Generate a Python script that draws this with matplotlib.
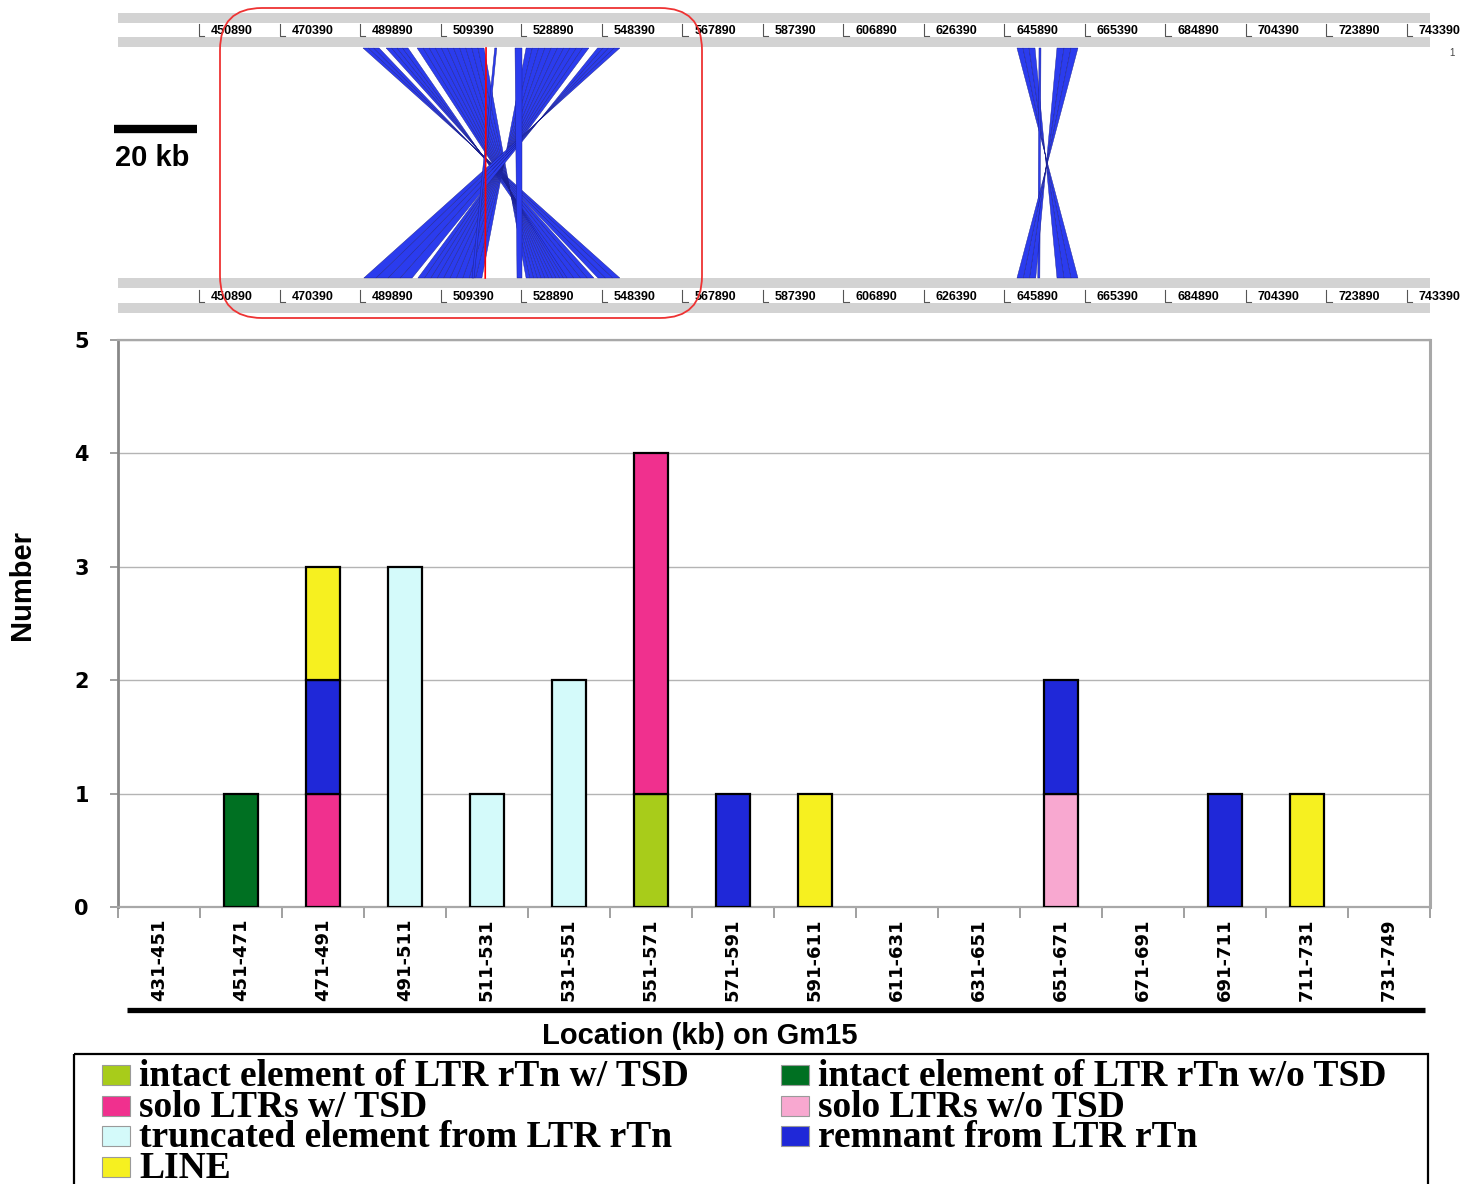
import numpy as np
import matplotlib.pyplot as plt
from matplotlib.patches import Polygon, Rectangle, FancyBboxPatch

# 20-kb bins on Gm15
bins = ['431-451', '451-471', '471-491', '491-511', '511-531', '531-551',
        '551-571', '571-591', '591-611', '611-631', '631-651', '651-671',
        '671-691', '691-711', '711-731', '731-749']

# number of elements per bin, one list per class
intact_tsd = [0, 0, 0, 0, 0, 0, 1, 0, 0, 0, 0, 0, 0, 0, 0, 0]
intact_no_tsd = [0, 1, 0, 0, 0, 0, 0, 0, 0, 0, 0, 0, 0, 0, 0, 0]
solo_tsd = [0, 0, 1, 0, 0, 0, 3, 0, 0, 0, 0, 0, 0, 0, 0, 0]
solo_no_tsd = [0, 0, 0, 0, 0, 0, 0, 0, 0, 0, 0, 1, 0, 0, 0, 0]
truncated = [0, 0, 0, 3, 1, 2, 0, 0, 0, 0, 0, 0, 0, 0, 0, 0]
remnant = [0, 0, 1, 0, 0, 0, 0, 1, 0, 0, 0, 1, 0, 1, 0, 0]
line_te = [0, 0, 1, 0, 0, 0, 0, 0, 1, 0, 0, 0, 0, 0, 1, 0]

series = [intact_tsd, intact_no_tsd, solo_tsd, solo_no_tsd, truncated, remnant, line_te]
labels = ['intact element of LTR rTn w/ TSD', 'intact element of LTR rTn w/o TSD',
          'solo LTRs w/ TSD', 'solo LTRs w/o TSD', 'truncated element from LTR rTn',
          'remnant from LTR rTn', 'LINE']
colors = ['#a8cc1a', '#007022', '#f0308e', '#f8a8d0', '#d4fafa', '#1f28d8', '#f6f020']

# ruler ticks of the two sequences (bp)
ruler_ticks = [450890, 470390, 489890, 509390, 528890, 548390, 567890, 587390,
               606890, 626390, 645890, 665390, 684890, 704390, 723890, 743390]

# syntenic hits between the two copies (kb): top start/end, bottom start/end, inverted
link_top_start = [490.6, 496.2, 503.7, 530.1, 547.4, 527.4, 522.5, 648.96, 654.29, 658.65]
link_top_end = [494.5, 501.5, 519.9, 545.3, 552.8, 529.1, 523.0, 653.32, 654.77, 663.73]
link_bot_start = [547.5, 540.0, 530.1, 503.9, 490.8, 527.9, 517.0, 658.65, 654.0, 648.96]
link_bot_end = [552.8, 546.5, 540.0, 519.4, 502.5, 529.1, 517.5, 663.73, 654.5, 653.5]
link_inverted = [True, True, True, True, True, False, False, True, False, True]
# the hit highlighted in red
red_top, red_bot = 520.4, 520.2

W, H = 1475, 1184
fig = plt.figure(figsize=(W / 100, H / 100), dpi=100)

# ---------- top: synteny panel ----------
top = fig.add_axes([118 / W, 1 - 320 / H, 1312 / W, 320 / H])
top.set_xlim(431.28, 748.97)
top.set_ylim(320, 0)
top.axis('off')

for y0, y1 in [(13, 23), (37, 47), (278, 288), (303, 313)]:
    top.axhspan(y0, y1, color='#d3d3d3', lw=0)

for t in ruler_ticks:
    kb = t / 1000
    for ymark, ylab in [(36, 31), (302, 297)]:
        top.plot([kb, kb, kb + 1.3], [ymark - 12, ymark, ymark], color='#555555', lw=0.8,
                 clip_on=False)
        top.text(kb + 2.9, ylab, str(t), fontsize=9, fontweight='bold',
                 family='Liberation Sans', va='center', ha='left', clip_on=False)

y_top, y_bot = 48, 278
for ts, te, bs, be, inv in zip(link_top_start, link_top_end, link_bot_start,
                               link_bot_end, link_inverted):
    n = max(1, int(round((te - ts) / 1.5)))
    tt = np.linspace(ts, te, n + 1)
    bb = np.linspace(bs, be, n + 1)
    if inv:
        bb = bb[::-1]
    for k in range(n):
        top.add_patch(Polygon([(tt[k], y_top), (tt[k + 1], y_top),
                               (bb[k + 1], y_bot), (bb[k], y_bot)],
                              closed=True, fc='#2b3cee', ec='#1a1f8a', lw=0.3))
top.plot([red_top, red_bot], [y_top, y_bot], color='red', lw=1.2)

# scale bar
top.plot([430.3, 450.3], [129, 129], color='black', lw=6, solid_capstyle='butt', clip_on=False)
top.text(430.6, 158, '20 kb', fontsize=21, fontweight='bold', family='Liberation Sans',
         va='center', ha='left', clip_on=False)

# ---------- bottom: stacked bar chart ----------
ax = fig.add_axes([118 / W, 1 - 907 / H, 1312 / W, 567 / H])
x = np.arange(len(bins))
bottom = np.zeros(len(bins))
for vals, lab, col in zip(series, labels, colors):
    vals = np.array(vals, dtype=float)
    mask = vals > 0
    ax.bar(x[mask], vals[mask], width=0.415, bottom=bottom[mask], color=col,
           edgecolor='black', linewidth=1.6, label=lab, zorder=3)
    bottom += vals

ax.set_xlim(-0.5, len(bins) - 0.5)
ax.set_ylim(0, 5)
ax.set_yticks(range(6))
ax.yaxis.grid(True, color='#b4b4b4', lw=1, zorder=0)
ax.set_xticks(x)
ax.set_xticklabels(bins, rotation=90, fontsize=13, fontweight='bold', family='DejaVu Sans')
ax.set_xticks(np.arange(-0.5, len(bins)), minor=True)
ax.tick_params(axis='x', which='major', length=0, pad=8)
ax.tick_params(axis='x', which='minor', length=8, color='#909090', width=1.2)
ax.tick_params(axis='y', length=6, color='#909090', width=1.2, pad=15)
for t in ax.get_yticklabels():
    t.set_fontsize(15)
    t.set_fontweight('heavy')
    t.set_family('DejaVu Sans')
for side in ['top', 'right', 'bottom']:
    ax.spines[side].set_color('#a8a8a8')
    ax.spines[side].set_linewidth(1.6)
ax.spines['left'].set_color('#888888')
ax.spines['left'].set_linewidth(2)
ax.spines['right'].set_linewidth(2.2)

# ---------- overlay in pixel coordinates ----------
ov = fig.add_axes([0, 0, 1, 1])
ov.set_xlim(0, W)
ov.set_ylim(H, 0)
ov.axis('off')
ov.patch.set_alpha(0)

ov.add_patch(FancyBboxPatch((220, 8), 482, 310, boxstyle='round,pad=0,rounding_size=42',
                            fill=False, ec='#ee3333', lw=1.3))
ov.text(1452, 53, '1', fontsize=7, family='Liberation Sans', color='#444444',
        ha='center', va='center')

ov.text(22, 585, 'Number', rotation=90, fontsize=21, fontweight='bold',
        family='Liberation Sans', ha='center', va='center')
ov.plot([127, 1425], [1010, 1010], color='black', lw=3.8, solid_capstyle='butt')
ov.text(700, 1036, 'Location (kb) on Gm15', fontsize=21, fontweight='bold',
        family='Liberation Sans', ha='center', va='center')

# legend box: two columns, entries filled column by column
ov.add_patch(Rectangle((74, 1054), 1354, 200, fill=False, ec='black', lw=1.6))
columns = [[0, 2, 4, 6], [1, 3, 5]]
row_step = 30.5
for col_i, idx in enumerate(columns):
    x0 = [102, 781][col_i]
    for row, i in enumerate(idx):
        yb = 1084 + row * row_step
        ov.add_patch(Rectangle((x0, yb - 19), 28, 20, fc=colors[i], ec='#9a9a9a', lw=0.8))
    # multi-line text is anchored on the baseline of its last line
    ov.text(x0 + 37, 1086 + (len(idx) - 1) * row_step, '\n'.join(labels[i] for i in idx),
            fontsize=27, fontweight='bold', family='Liberation Serif', ha='left',
            va='baseline', linespacing=0.83, multialignment='left')

plt.savefig('out.png', dpi=100)
